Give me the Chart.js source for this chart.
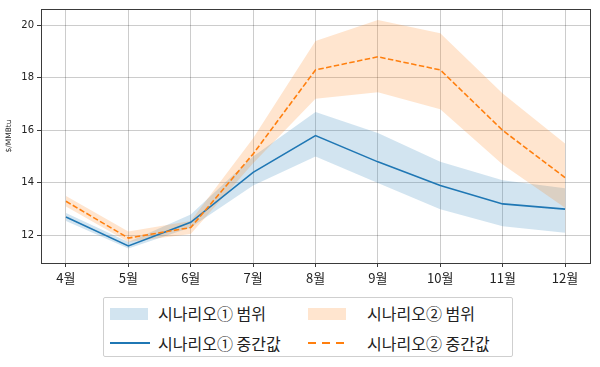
<!DOCTYPE html>
<html>
<head>
<meta charset="utf-8">
<script src="https://cdn.jsdelivr.net/npm/chart.js@4/dist/chart.umd.min.js"></script>
<style>
  html, body { margin: 0; padding: 0; background: #fff; }
  #wrap { position: relative; width: 600px; height: 367px; }
  #c { position: absolute; left: 0; top: 0; }
  #legend { position: absolute; left: 103px; top: 297px; width: 410px; height: 60px;
    border: 1px solid #cfcfcf; border-radius: 2px; box-sizing: border-box; background: #fff;
    font-family: "Noto Sans CJK KR", "Noto Sans", sans-serif; font-size: 16px; color: #222; }
  .item { position: absolute; white-space: nowrap; line-height: 20px; }
  .sw { position: absolute; }
</style>
</head>
<body>
<div id="wrap">
  <canvas id="c" width="600" height="367"></canvas>
  <div id="legend"></div>
</div>
<script>
const months = ["4월","5월","6월","7월","8월","9월","10월","11월","12월"];
const yTicks = [12, 14, 16, 18, 20];
const s1Mid  = [12.7, 11.6, 12.5, 14.4, 15.8, 14.8, 13.9, 13.2, 13.0];
const s1Low  = [12.55, 11.5, 12.3, 13.9, 15.0, 14.0, 13.0, 12.35, 12.1];
const s1High = [12.85, 11.75, 12.8, 15.0, 16.7, 15.9, 14.8, 14.1, 13.8];
const s2Mid  = [13.3, 11.9, 12.3, 15.1, 18.3, 18.8, 18.3, 16.0, 14.2];
const s2Low  = [13.1, 11.75, 12.05, 14.75, 17.2, 17.45, 16.8, 14.7, 13.05];
const s2High = [13.5, 12.15, 12.55, 15.7, 19.4, 20.2, 19.7, 17.4, 15.5];
const labels = ["시나리오① 범위", "시나리오② 범위", "시나리오① 중간값", "시나리오② 중간값"];

const BLUE = "#1f77b4", ORANGE = "#ff7f0e";
const BLUE_FILL = "rgba(31,119,180,0.2)", ORANGE_FILL = "rgba(255,127,14,0.2)";
const pts = arr => arr.map((v, i) => ({ x: i, y: v }));

const base = { pointRadius: 0, pointHoverRadius: 0, tension: 0 };
const datasets = [
  Object.assign({}, base, { label: "s1low", data: pts(s1Low), borderWidth: 0, borderColor: "transparent", fill: false, order: 4 }),
  Object.assign({}, base, { label: labels[0], data: pts(s1High), borderWidth: 0, borderColor: "transparent", backgroundColor: BLUE_FILL, fill: "-1", order: 3 }),
  Object.assign({}, base, { label: "s2low", data: pts(s2Low), borderWidth: 0, borderColor: "transparent", fill: false, order: 4 }),
  Object.assign({}, base, { label: labels[1], data: pts(s2High), borderWidth: 0, borderColor: "transparent", backgroundColor: ORANGE_FILL, fill: "-1", order: 2 }),
  Object.assign({}, base, { label: labels[2], data: pts(s1Mid), borderWidth: 1.6, borderColor: BLUE, fill: false, order: 1 }),
  Object.assign({}, base, { label: labels[3], data: pts(s2Mid), borderWidth: 1.6, borderColor: ORANGE, borderDash: [5.5, 2.4], fill: false, order: 0 })
];

const framePlugin = {
  id: "frame",
  afterDraw(chart) {
    const a = chart.chartArea, ctx = chart.ctx;
    ctx.save();
    ctx.strokeStyle = "#3a3a3a";
    ctx.lineWidth = 1;
    ctx.strokeRect(Math.round(a.left) + 0.5, Math.round(a.top) + 0.5, Math.round(a.right - a.left), Math.round(a.bottom - a.top));
    ctx.restore();
  }
};

new Chart(document.getElementById("c"), {
  type: "line",
  data: { datasets },
  plugins: [framePlugin],
  options: {
    responsive: false,
    animation: false,
    events: [],
    layout: { padding: { left: 0, right: 10, top: 4, bottom: 0 } },
    plugins: { legend: { display: false }, tooltip: { enabled: false } },
    scales: {
      x: {
        type: "linear", min: -0.4, max: 8.4,
        afterBuildTicks: s => { s.ticks = months.map((_, i) => ({ value: i })); },
        afterFit: s => { s.height = 104; },
        ticks: { callback: v => months[v], color: "#222", padding: 3, maxRotation: 0,
                 font: { family: "'Noto Sans CJK KR', sans-serif", size: 13 } },
        grid: { color: "rgba(0,0,0,0.2)", lineWidth: 1, drawTicks: true, tickLength: 4, tickColor: "#3a3a3a" },
        border: { display: false }
      },
      y: {
        type: "linear", min: 10.95, max: 20.62,
        afterBuildTicks: s => { s.ticks = yTicks.map(v => ({ value: v })); },
        afterFit: s => { s.width = 41; },
        ticks: { color: "#222", padding: 3, font: { family: "'DejaVu Sans', sans-serif", size: 10 } },
        grid: { color: "rgba(0,0,0,0.2)", lineWidth: 1, drawTicks: true, tickLength: 4, tickColor: "#3a3a3a" },
        border: { display: false },
        title: { display: true, text: "$/MMBtu", color: "#222", padding: { top: 5, bottom: 0 },
                 font: { family: "'DejaVu Sans', sans-serif", size: 7.5 } }
      }
    }
  }
});

// HTML legend (two columns)
const lg = document.getElementById("legend");
const items = [
  { kind: "patch", color: BLUE_FILL, text: labels[0], sx: 6, tx: 54, y: 10 },
  { kind: "patch", color: ORANGE_FILL, text: labels[1], sx: 204, tx: 263, y: 10 },
  { kind: "line", color: BLUE, text: labels[2], sx: 6, tx: 54, y: 40 },
  { kind: "dash", color: ORANGE, text: labels[3], sx: 204, tx: 263, y: 40 }
];
items.forEach(it => {
  const sw = document.createElement("div");
  sw.className = "sw";
  if (it.kind === "patch") {
    sw.style.cssText = `left:${it.sx}px;top:${it.y}px;width:38px;height:12px;background:${it.color};`;
  } else if (it.kind === "line") {
    sw.style.cssText = `left:${it.sx}px;top:${it.y + 4}px;width:40px;height:0;border-top:2px solid ${it.color};`;
  } else {
    sw.style.cssText = `left:${it.sx}px;top:${it.y + 4}px;width:40px;height:2px;background:repeating-linear-gradient(90deg, ${it.color} 0 8px, transparent 8px 14px);`;
  }
  lg.appendChild(sw);
  const t = document.createElement("div");
  t.className = "item";
  t.style.left = it.tx + "px";
  t.style.top = (it.y - 5) + "px";
  t.textContent = it.text;
  lg.appendChild(t);
});
</script>
</body>
</html>
